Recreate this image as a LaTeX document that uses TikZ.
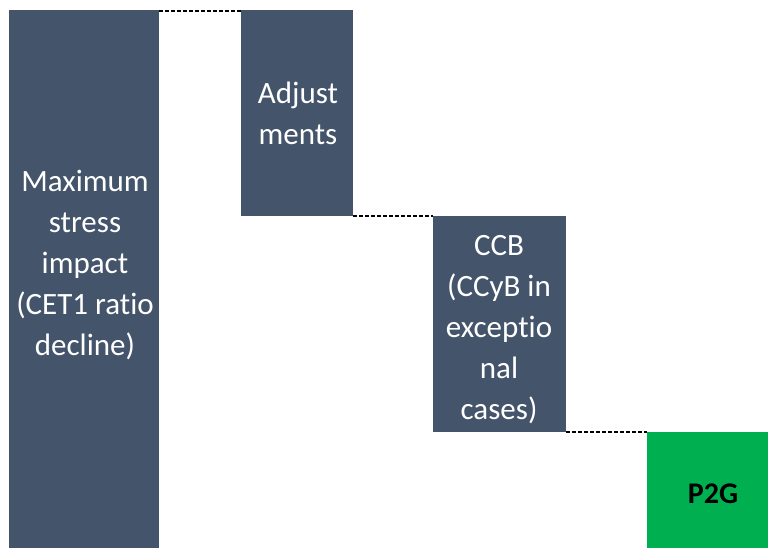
\documentclass[tikz,border=0pt]{standalone}
\usepackage{fontspec}
\setmainfont{Carlito}[Ligatures=NoCommon]
\definecolor{slate}{HTML}{44546A}
\definecolor{pgreen}{HTML}{00B050}
\tikzset{
  bar/.style={draw=none, fill=slate, inner sep=0pt, outer sep=0pt, anchor=north west},
  gbar/.style={draw=none, fill=pgreen, inner sep=0pt, outer sep=0pt, anchor=north west},
  bartext/.style={text=white, align=center, inner sep=0pt, font=\fontsize{31}{41}\selectfont},
  gtext/.style={text=black, align=center, inner sep=0pt, font=\fontsize{30}{41}\selectfont\bfseries},
  link/.style={draw=black, line width=2.8pt, dash pattern=on 4pt off 2pt}
}
\begin{document}
\begin{tikzpicture}[x=1pt,y=-1pt]
\useasboundingbox (0,0) rectangle (768,548);
\node[bar, minimum width=150pt, minimum height=538pt] (b1) at (9,10) {};
\node[bar, minimum width=112pt, minimum height=206pt] (b2) at (241,10) {};
\node[bar, minimum width=133pt, minimum height=216pt] (b3) at (433,216) {};
\node[gbar, minimum width=121pt, minimum height=116pt] (b4) at (647,432) {};
\node[bartext] (t1) at (85,265) {Maximum\\stress\\impact\\(CET1 ratio\\decline)};
\node[bartext] (t2) at (298,113) {Adjust\\ments};
\node[bartext] (t3) at (499,330) {CCB\\(CCyB in\\exceptio\\nal\\cases)};
\node[gtext] (t4) at (713,494) {P2G};
\draw[link] ([yshift=-1pt]b1.north east) -- ([yshift=-1pt]b2.north west);
\draw[link] (b2.south east) -- (b3.north west);
\draw[link] (b3.south east) -- (b4.north west);
\end{tikzpicture}
\end{document}
